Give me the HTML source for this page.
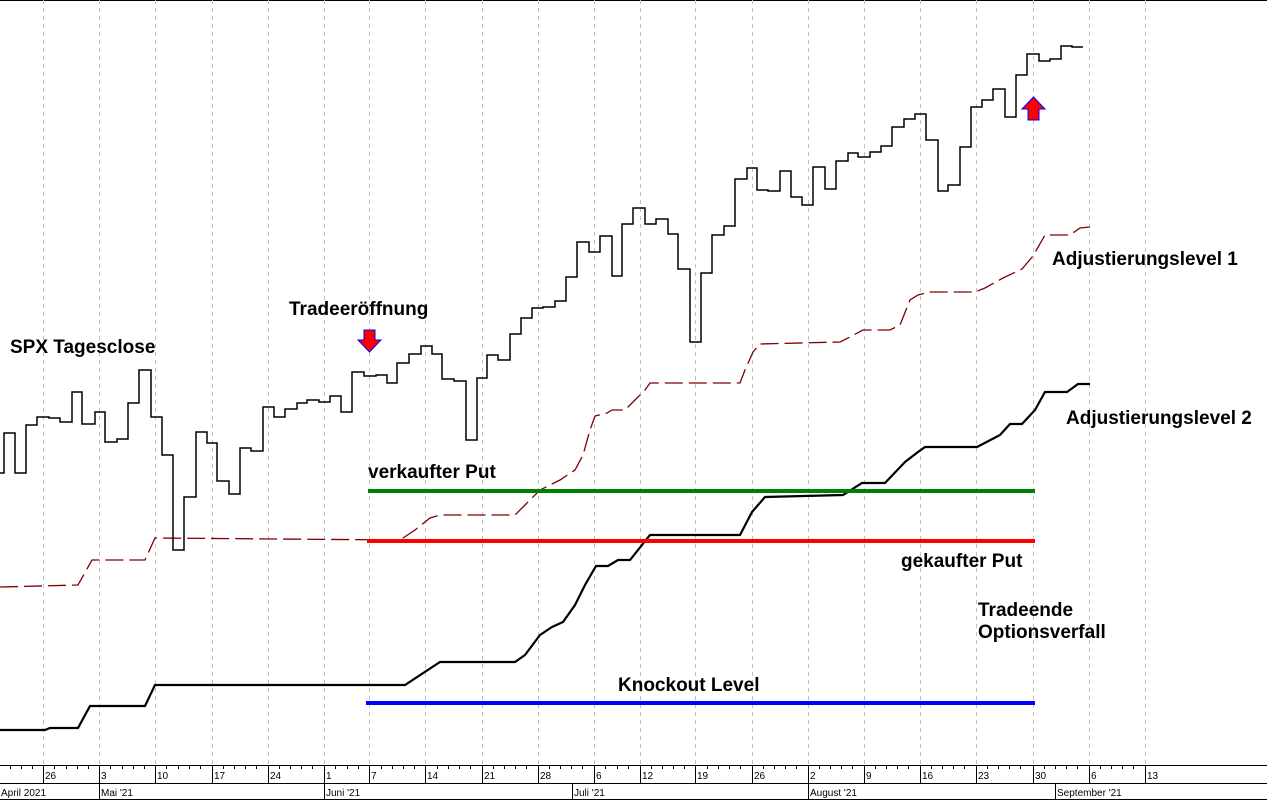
<!DOCTYPE html>
<html><head><meta charset="utf-8"><style>
html,body{margin:0;padding:0;background:#fff;}
svg{display:block;}
.l{font-family:"Liberation Sans",sans-serif;font-weight:bold;font-size:19px;fill:#000;}
.t{font-family:"Liberation Sans",sans-serif;font-size:10px;fill:#000;}
</style></head><body>
<svg width="1267" height="801" viewBox="0 0 1267 801" xmlns="http://www.w3.org/2000/svg">
<rect width="1267" height="801" fill="#fff"/>
<line x1="0" y1="0.5" x2="1267" y2="0.5" stroke="#000"/>
<g stroke="#c0c0c0" stroke-dasharray="4,4" stroke-width="1">
<line x1="43.5" y1="0" x2="43.5" y2="765"/><line x1="99.5" y1="0" x2="99.5" y2="765"/>
<line x1="155.5" y1="0" x2="155.5" y2="765"/><line x1="212.5" y1="0" x2="212.5" y2="765"/>
<line x1="268.5" y1="0" x2="268.5" y2="765"/><line x1="324.5" y1="0" x2="324.5" y2="765"/>
<line x1="369.5" y1="0" x2="369.5" y2="765"/><line x1="425.5" y1="0" x2="425.5" y2="765"/>
<line x1="482.5" y1="0" x2="482.5" y2="765"/><line x1="538.5" y1="0" x2="538.5" y2="765"/>
<line x1="594.5" y1="0" x2="594.5" y2="765"/><line x1="640.5" y1="0" x2="640.5" y2="765"/>
<line x1="695.5" y1="0" x2="695.5" y2="765"/><line x1="752.5" y1="0" x2="752.5" y2="765"/>
<line x1="808.5" y1="0" x2="808.5" y2="765"/><line x1="864.5" y1="0" x2="864.5" y2="765"/>
<line x1="920.5" y1="0" x2="920.5" y2="765"/><line x1="976.5" y1="0" x2="976.5" y2="765"/>
<line x1="1033.5" y1="0" x2="1033.5" y2="765"/><line x1="1089.5" y1="0" x2="1089.5" y2="765"/>
<line x1="1145.5" y1="0" x2="1145.5" y2="765"/>
</g>
<polyline fill="none" stroke="#800000" stroke-width="1.3" stroke-dasharray="18,6" points="0,587 78,585 92,560 145,560 155,538 400,540 415,530 430,518 440,515 515,515 525,505 540,490 560,480 575,470 583,455 590,430 595,416 607,413 612,410 625,410 635,400 645,390 650,383 740,383 745,370 753,352 760,344 840,342 850,337 863,330 890,330 900,325 910,300 918,295 930,292 975,292 985,288 1003,278 1022,269 1033,256 1045,235 1070,235 1080,228 1090,227"/>
<polyline fill="none" stroke="#000" stroke-width="2.2" points="0,730 45,730 50,728 78,728 90,706 145,706 155,685 405,685 440,662 515,662 525,655 540,635 552,627 563,622 575,605 585,585 596,566 608,566 618,560 630,560 650,535 740,535 752,512 765,497 843,495 862,483 885,483 905,462 918,452 925,447 977,447 1000,435 1010,424 1022,424 1035,410 1045,392 1067,392 1078,384 1090,384"/>
<path fill="none" stroke="#000" stroke-width="1.5" d="M0,473 H4 V433 H15 V473 H26 V425 H37 V417 H49 V418 H60 V422 H72 V392 H82 V424 H95 V412 H105 V442 H117 V439 H128 V403 H139 V370 H151 V417 H162 V455 H173 V550 H184 V497 H196 V432 H207 V443 H217 V481 H229 V494 H240 V448 H251 V451 H263 V407 H274 V417 H285 V409 H297 V403 H307 V400 H319 V402 H330 V396 H341 V412 H352 V372 H364 V376 H376 V375 H387 V383 H397 V363 H409 V354 H421 V346 H432 V354 H442 V379 H454 V381 H466 V440 H477 V378 H487 V355 H498 V360 H510 V334 H521 V318 H532 V308 H543 V307 H555 V301 H566 V277 H577 V242 H589 V252 H600 V236 H612 V276 H622 V224 H633 V208 H645 V224 H656 V219 H668 V234 H678 V269 H690 V342 H701 V273 H712 V235 H724 V226 H735 V179 H747 V168 H757 V190 H768 V191 H780 V171 H791 V197 H802 V205 H813 V167 H825 V189 H836 V161 H848 V153 H858 V157 H870 V152 H881 V146 H892 V127 H904 V119 H915 V114 H926 V140 H938 V191 H948 V185 H960 V147 H971 V107 H982 V100 H993 V89 H1005 V117 H1016 V75 H1027 V54 H1039 V61 H1050 V59 H1061 V46 H1072 V47 H1083"/>
<line x1="368" y1="491" x2="1035" y2="491" stroke="#008000" stroke-width="4"/>
<line x1="367" y1="541" x2="1035" y2="541" stroke="#ff0000" stroke-width="4"/>
<line x1="366" y1="703" x2="1035" y2="703" stroke="#0000ff" stroke-width="4"/>
<polygon points="364,330 375,330 375,340 381,340 369.5,352 358,340 364,340" fill="#ff0000" stroke="#0000ff" stroke-width="1"/>
<polygon points="1028,120 1039,120 1039,109 1045,109 1033.5,97 1022,109 1028,109" fill="#ff0000" stroke="#0000ff" stroke-width="1"/>
<text class="l" x="10" y="353">SPX Tagesclose</text>
<text class="l" x="289" y="315">Tradeeröffnung</text>
<text class="l" x="368" y="478">verkaufter Put</text>
<text class="l" x="901" y="567">gekaufter Put</text>
<text class="l" x="978" y="616">Tradeende</text>
<text class="l" x="978" y="638">Optionsverfall</text>
<text class="l" x="618" y="691">Knockout Level</text>
<text class="l" x="1052" y="265">Adjustierungslevel 1</text>
<text class="l" x="1066" y="424">Adjustierungslevel 2</text>
<line x1="0" y1="765.5" x2="1267" y2="765.5" stroke="#000"/>
<line x1="0" y1="783.5" x2="1267" y2="783.5" stroke="#000"/>
<line x1="0" y1="799.5" x2="1267" y2="799.5" stroke="#000"/>
<g stroke="#000">
<path d="M10.5,766v3M21.5,766v3M32.5,766v3M54.5,766v3M66.5,766v3M77.5,766v3M88.5,766v3M110.5,766v3M122.5,766v3M133.5,766v3M144.5,766v3M166.5,766v3M178.5,766v3M189.5,766v3M200.5,766v3M223.5,766v3M234.5,766v3M245.5,766v3M256.5,766v3M279.5,766v3M290.5,766v3M301.5,766v3M312.5,766v3M335.5,766v3M347.5,766v3M358.5,766v3M381.5,766v3M392.5,766v3M403.5,766v3M414.5,766v3M437.5,766v3M448.5,766v3M459.5,766v3M470.5,766v3M493.5,766v3M504.5,766v3M515.5,766v3M526.5,766v3M549.5,766v3M560.5,766v3M571.5,766v3M582.5,766v3M605.5,766v3M617.5,766v3M628.5,766v3M651.5,766v3M662.5,766v3M673.5,766v3M684.5,766v3M707.5,766v3M718.5,766v3M729.5,766v3M740.5,766v3M763.5,766v3M774.5,766v3M785.5,766v3M796.5,766v3M819.5,766v3M830.5,766v3M841.5,766v3M852.5,766v3M875.5,766v3M886.5,766v3M897.5,766v3M908.5,766v3M931.5,766v3M942.5,766v3M953.5,766v3M964.5,766v3M987.5,766v3M998.5,766v3M1009.5,766v3M1020.5,766v3M1044.5,766v3M1055.5,766v3M1066.5,766v3M1077.5,766v3M1100.5,766v3M1111.5,766v3M1122.5,766v3M1133.5,766v3"/>
<path d="M43.5,766v17M99.5,766v17M155.5,766v17M212.5,766v17M268.5,766v17M324.5,766v17M369.5,766v17M425.5,766v17M482.5,766v17M538.5,766v17M594.5,766v17M640.5,766v17M695.5,766v17M752.5,766v17M808.5,766v17M864.5,766v17M920.5,766v17M976.5,766v17M1033.5,766v17M1089.5,766v17M1145.5,766v17"/>
<path d="M99.5,784v15M324.5,784v15M572.5,784v15M808.5,784v15M1055.5,784v15"/>
</g>
<g class="t">
<text x="45" y="779">26</text><text x="101" y="779">3</text><text x="157" y="779">10</text><text x="214" y="779">17</text><text x="270" y="779">24</text><text x="326" y="779">1</text><text x="371" y="779">7</text><text x="427" y="779">14</text><text x="484" y="779">21</text><text x="540" y="779">28</text><text x="596" y="779">6</text><text x="642" y="779">12</text><text x="697" y="779">19</text><text x="754" y="779">26</text><text x="810" y="779">2</text><text x="866" y="779">9</text><text x="922" y="779">16</text><text x="978" y="779">23</text><text x="1035" y="779">30</text><text x="1091" y="779">6</text><text x="1147" y="779">13</text>
<text x="1" y="796">April 2021</text><text x="101" y="796">Mai '21</text><text x="326" y="796">Juni '21</text><text x="574" y="796">Juli '21</text><text x="810" y="796">August '21</text><text x="1057" y="796">September '21</text>
</g>
</svg>
</body></html>
